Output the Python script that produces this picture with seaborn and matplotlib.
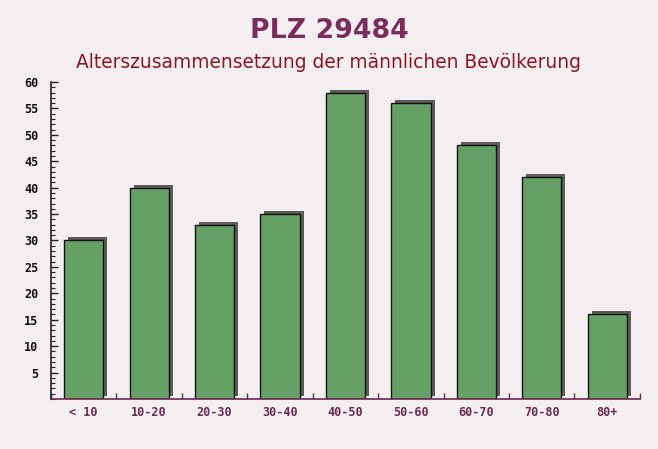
import matplotlib
matplotlib.use("Agg")
import matplotlib.pyplot as plt
import matplotlib.transforms as mtransforms
from matplotlib.ticker import MultipleLocator
import seaborn as sns
import pandas as pd

categories = ["< 10", "10-20", "20-30", "30-40", "40-50", "50-60", "60-70", "70-80", "80+"]
values = [30, 40, 33, 35, 58, 56, 48, 42, 16]

df = pd.DataFrame({"Alter": categories, "Anzahl": values})

sns.set_theme(style="white")
plt.rcParams['font.family'] = ['DejaVu Sans']

bg = "#f3eff1"
fig = plt.figure(figsize=(6.58, 4.49), dpi=100, facecolor=bg)
ax = fig.add_axes([0.0775, 0.1114, 0.895, 0.706])
ax.set_facecolor("none")

# shadow bars
sns.barplot(data=df, x="Alter", y="Anzahl", ax=ax, color="#5e5a5c", width=0.6,
            saturation=1, edgecolor="none", linewidth=0)
shadow_patches = list(ax.patches)
off = mtransforms.offset_copy(ax.transData, fig=fig, x=4, y=3, units="dots")
for p in shadow_patches:
    p.set_transform(off)
    p.set_clip_on(False)

sns.barplot(data=df, x="Alter", y="Anzahl", ax=ax, color="#65a065", width=0.6,
            saturation=1, edgecolor="#111111", linewidth=1.0)

ax.set_xlim(-0.5, 8.5)
ax.set_ylim(0, 60)
ax.yaxis.set_major_locator(MultipleLocator(5))
ax.yaxis.set_minor_locator(MultipleLocator(1))
ax.set_yticks(list(range(5, 61, 5)))
ax.set_xlabel("")
ax.set_ylabel("")

for s in ["top", "right"]:
    ax.spines[s].set_visible(False)
ax.spines["left"].set_color("#222222")
ax.spines["bottom"].set_color("#6b2a50")
ax.spines["left"].set_linewidth(1.2)
ax.spines["bottom"].set_linewidth(1.2)

ax.tick_params(axis="y", which="major", direction="in", length=5, width=1, color="#222222",
               left=True, labelsize=8.5, labelcolor="#111111", pad=9)
ax.tick_params(axis="y", which="minor", direction="in", length=3, width=0.8, color="#222222", left=True)
ax.tick_params(axis="x", which="major", length=0, labelsize=8.5, labelcolor="#6b2a50", pad=5)
ax.set_xticks(range(len(categories)))
ax.set_xticks([i + 0.5 for i in range(-1, len(categories))], minor=True)
ax.tick_params(axis="x", which="minor", direction="in", length=4, width=1, color="#6b2a50", bottom=True)

for lab in ax.get_yticklabels():
    lab.set_fontfamily("DejaVu Sans Mono")
    lab.set_fontweight("bold")
for lab in ax.get_xticklabels():
    lab.set_fontfamily("DejaVu Sans Mono")
    lab.set_fontweight("bold")

fig.text(0.5, 0.9147, "PLZ 29484", ha="center", va="baseline", fontsize=19.3,
         fontweight="bold", color="#7a2d5c")
fig.text(0.5, 0.8479, "Alterszusammensetzung der männlichen Bevölkerung", ha="center",
         va="baseline", fontsize=13.4, color="#8b1520")

fig.savefig("out.png", dpi=100, facecolor=bg)
